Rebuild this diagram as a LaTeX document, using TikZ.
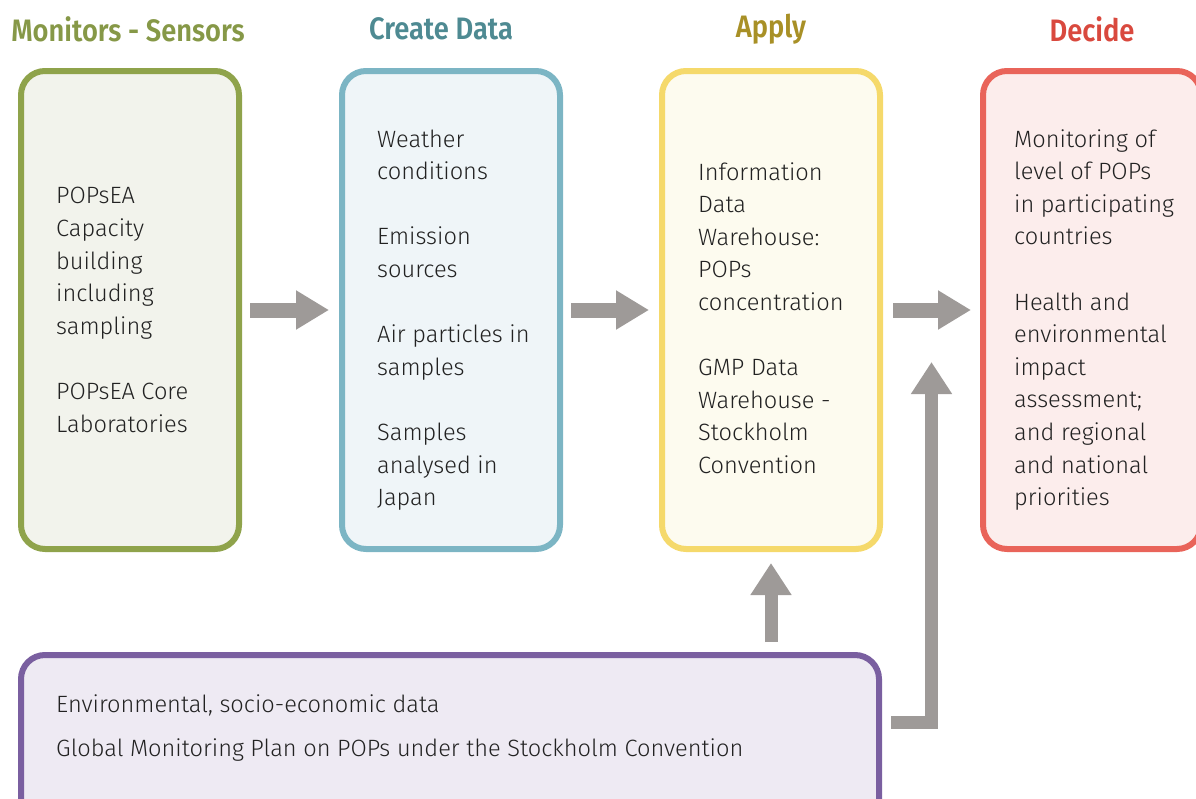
\documentclass[tikz,border=0pt]{standalone}
\usepackage{fontspec}
\setmainfont{Fira Sans}[UprightFont=* Light, BoldFont=* SemiBold]
\newfontfamily\headfont{Fira Sans}[UprightFont=* SemiBold, FakeStretch=0.88]
\usetikzlibrary{arrows.meta}
\definecolor{gstroke}{HTML}{8FA34B}\definecolor{gfill}{HTML}{F2F3EC}\definecolor{ghead}{HTML}{869847}
\definecolor{bstroke}{HTML}{7CB5C4}\definecolor{bfill}{HTML}{EFF5F8}\definecolor{bhead}{HTML}{4E8A92}
\definecolor{ystroke}{HTML}{F5D96B}\definecolor{yfill}{HTML}{FDFBEF}\definecolor{yhead}{HTML}{A89026}
\definecolor{rstroke}{HTML}{E9645A}\definecolor{rfill}{HTML}{FCEDEC}\definecolor{rhead}{HTML}{D9493E}
\definecolor{pstroke}{HTML}{7A5FA0}\definecolor{pfill}{HTML}{EEEAF3}
\definecolor{arrowgray}{HTML}{9E9A98}\definecolor{txt}{HTML}{222222}
\tikzset{
  panel/.style={draw, line width=6pt, rounded corners=24pt, minimum width=218pt, minimum height=478pt, inner sep=0pt},
  body/.style={align=left, anchor=west, inner sep=0pt, text=txt, font=\fontsize{23.6}{32.6}\selectfont},
  heading/.style={inner sep=0pt, font=\headfont\fontsize{31}{36}\selectfont},
  bigarrow/.style={draw=arrowgray, line width=15pt, -{Triangle[width=37pt,length=33pt]}},
  uparrow/.style={draw=arrowgray, line width=13pt, line join=miter, -{Triangle[width=39pt,length=32pt]}}
}
\begin{document}
\begin{tikzpicture}[x=1pt,y=-1pt]
\useasboundingbox (0,0) rectangle (1196,798);
\begin{scope}
\clip (0,0) rectangle (1196,798);
% headings
\node[heading, text=ghead] (hg) at (128,29) {Monitors - Sensors};
\node[heading, text=bhead] (hb) at (441,29) {Create Data};
\node[heading, text=yhead] (hy) at (771,29) {Apply};
\node[heading, text=rhead] (hr) at (1092,29) {Decide};
% panels
\node[panel, draw=gstroke, fill=gfill] (g) at (130,310) {};
\node[panel, draw=bstroke, fill=bfill] (b) at (451,310) {};
\node[panel, draw=ystroke, fill=yfill] (y) at (771,310) {};
\node[panel, draw=rstroke, fill=rfill] (r) at (1092,310) {};
\node[panel, draw=pstroke, fill=pfill, minimum width=858pt, minimum height=250pt] (p) at (450,780) {};
% texts
\node[body] (tg) at (56,310) {POPsEA\\Capacity\\building\\including\\sampling\\[32.6pt]POPsEA Core\\Laboratories};
\node[body] (tb) at (377,320) {Weather\\conditions\\[32.6pt]Emission\\sources\\[32.6pt]Air particles in\\samples\\[32.6pt]Samples\\analysed in\\Japan};
\node[body] (ty) at (698,318) {Information\\Data\\Warehouse:\\POPs\\concentration\\[32.6pt]GMP Data\\Warehouse -\\Stockholm\\Convention};
\node[body] (tr) at (1014,320) {Monitoring of\\level of POPs\\in participating\\countries\\[32.6pt]Health and\\environmental\\impact\\assessment;\\and regional\\and national\\priorities};
\node[body, font=\fontsize{23.6}{44}\selectfont] (tp) at (56,728) {Environmental, socio-economic data\\Global Monitoring Plan on POPs under the Stockholm Convention};
% arrows
\draw[bigarrow, shorten <=8pt, shorten >=10pt] (g.east) -- (b.west);
\draw[bigarrow, shorten <=8pt, shorten >=10pt] (b.east) -- (y.west);
\draw[bigarrow, shorten <=10pt, shorten >=9pt] (y.east) -- (r.west);
\draw[uparrow, shorten <=10pt, shorten >=11pt] (y.south |- p.north) -- (y.south);
\coordinate (ltip) at (931.5,362);
\coordinate (lcorner) at (931.5,722.5);
\draw[uparrow, shorten <=9pt] (p.east |- lcorner) -- (lcorner) -- (ltip);
\end{scope}
\end{tikzpicture}
\end{document}
